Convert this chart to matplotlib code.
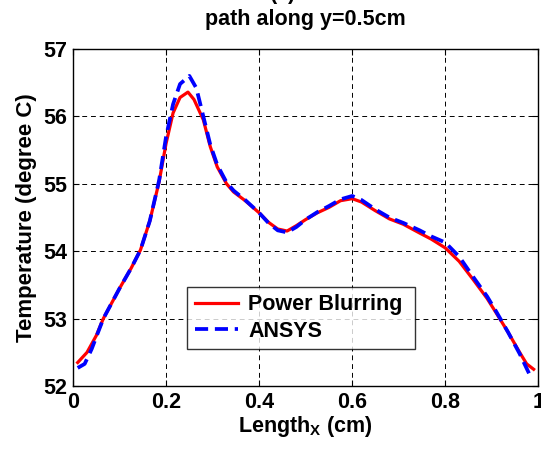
import numpy as np
import matplotlib.pyplot as plt

plt.rcParams['font.family'] = ['Liberation Sans', 'DejaVu Sans']
plt.rcParams['font.weight'] = 'bold'
plt.rcParams['mathtext.fontset'] = 'custom'
plt.rcParams['mathtext.bf'] = 'Liberation Sans:bold'
plt.rcParams['mathtext.rm'] = 'Liberation Sans:bold'

# temperature along the path y = 0.5 cm
x_pb = [0.01, 0.03, 0.05, 0.065, 0.10, 0.125, 0.145, 0.165, 0.185, 0.20,
        0.215, 0.23, 0.247, 0.26, 0.28, 0.295, 0.31, 0.33, 0.345, 0.37,
        0.40, 0.42, 0.44, 0.46, 0.48, 0.50, 0.525, 0.55, 0.575, 0.60,
        0.62, 0.65, 0.68, 0.71, 0.745, 0.77, 0.80, 0.83, 0.86, 0.89,
        0.91, 0.935, 0.96, 0.975, 0.99]
t_pb = [52.35, 52.50, 52.75, 53.00, 53.45, 53.75, 54.02, 54.45, 55.03, 55.60,
        56.05, 56.28, 56.36, 56.25, 55.95, 55.55, 55.25, 55.00, 54.88, 54.75,
        54.57, 54.43, 54.33, 54.30, 54.38, 54.47, 54.57, 54.65, 54.75, 54.78,
        54.73, 54.60, 54.48, 54.40, 54.27, 54.18, 54.05, 53.85, 53.58, 53.30,
        53.08, 52.80, 52.50, 52.33, 52.25]

x_an = [0.01, 0.025, 0.04, 0.065, 0.10, 0.125, 0.145, 0.165, 0.185, 0.20,
        0.215, 0.23, 0.25, 0.265, 0.28, 0.295, 0.31, 0.33, 0.345, 0.37,
        0.40, 0.42, 0.44, 0.46, 0.48, 0.50, 0.525, 0.55, 0.575, 0.60,
        0.62, 0.65, 0.68, 0.71, 0.745, 0.77, 0.80, 0.83, 0.86, 0.89,
        0.91, 0.935, 0.96, 0.98]
t_an = [52.27, 52.33, 52.55, 53.00, 53.45, 53.75, 54.02, 54.45, 55.05, 55.70,
        56.18, 56.48, 56.60, 56.42, 56.00, 55.58, 55.28, 55.02, 54.90, 54.76,
        54.57, 54.42, 54.31, 54.28, 54.36, 54.47, 54.58, 54.67, 54.77, 54.82,
        54.76, 54.62, 54.50, 54.42, 54.31, 54.22, 54.13, 53.92, 53.62, 53.33,
        53.10, 52.80, 52.48, 52.19]

fig = plt.figure(figsize=(5.41, 4.49), dpi=100)
ax = fig.add_axes([0.135, 0.140, 0.86, 0.751])

ax.plot(x_pb, t_pb, color='red', lw=2.3, label='Power Blurring')
ax.plot(x_an, t_an, color='blue', lw=2.7, dashes=(3.5, 1.8), label='ANSYS')

ax.set_xlim(0, 1)
ax.set_ylim(52, 57)
ax.set_xticks([0, 0.2, 0.4, 0.6, 0.8, 1])
ax.set_xticklabels(['0', '0.2', '0.4', '0.6', '0.8', '1'])
ax.set_yticks([52, 53, 54, 55, 56, 57])
ax.tick_params(direction='in', top=True, right=True, labelsize=15.5, length=4, pad=4)
ax.grid(True, color='black', ls=(0, (5, 4)), lw=0.7)
for s in ax.spines.values():
    s.set_linewidth(1.0)

ax.set_xlabel(r'Length$_{\mathbf{X}}$ (cm)', fontsize=15.5, fontweight='bold', labelpad=1)
ax.set_ylabel('Temperature (degree C)', fontsize=16, fontweight='bold', labelpad=5)
ax.set_title('path along y=0.5cm', fontsize=15.5, fontweight='bold', pad=17)
fig.text(0.523, 1 + 1.0 / 449, '(a)', ha='center', va='baseline', fontsize=15.5, fontweight='bold')

leg = ax.legend(loc='lower left', bbox_to_anchor=(0.245, 0.109, 0.49, 0.197), mode='expand',
                fontsize=15.5, frameon=True, fancybox=False, handlelength=2.0,
                handletextpad=0.5, borderaxespad=0, labelspacing=0.25, borderpad=0.35)
leg.get_frame().set_edgecolor('black')
leg.get_frame().set_linewidth(1.0)

fig.savefig('out.png', dpi=100)
